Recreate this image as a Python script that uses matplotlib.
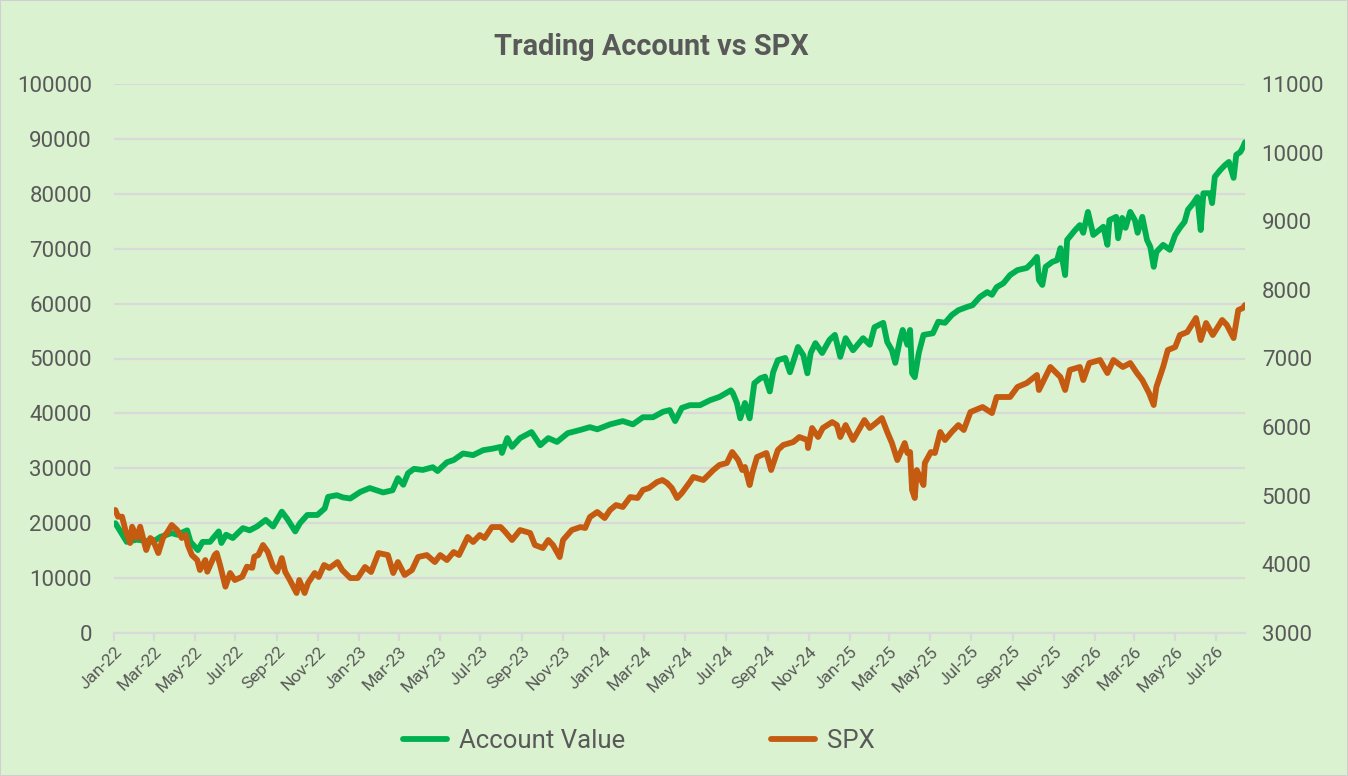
import numpy as np
import pandas as pd
import matplotlib
matplotlib.use("Agg")
import matplotlib.pyplot as plt
import matplotlib.dates as mdates
from matplotlib.patches import Rectangle

plt.rcParams['font.family'] = ['Roboto', 'DejaVu Sans']

# Valores: cuenta de trading
fechasCuenta = [
    "2022-01-03", "2022-01-20", "2022-02-04", "2022-02-28", "2022-03-11", "2022-03-28", "2022-04-05",
    "2022-04-20", "2022-04-25", "2022-05-06", "2022-05-13", "2022-05-24", "2022-06-06", "2022-06-10",
    "2022-06-17", "2022-06-27", "2022-07-12", "2022-07-22", "2022-08-02", "2022-08-15", "2022-08-26",
    "2022-09-08", "2022-09-16", "2022-09-28", "2022-10-05", "2022-10-16", "2022-10-31", "2022-11-11",
    "2022-11-16", "2022-11-29", "2022-12-08", "2022-12-19", "2023-01-03", "2023-01-17", "2023-02-06",
    "2023-02-20", "2023-02-28", "2023-03-08", "2023-03-15", "2023-03-24", "2023-04-06", "2023-04-21",
    "2023-04-28", "2023-05-12", "2023-05-22", "2023-06-05", "2023-06-20", "2023-07-05", "2023-07-20",
    "2023-07-31", "2023-08-02", "2023-08-10", "2023-08-17", "2023-08-29", "2023-09-15", "2023-09-28",
    "2023-10-10", "2023-10-23", "2023-11-08", "2023-11-27", "2023-12-11", "2023-12-22", "2024-01-10",
    "2024-01-29", "2024-02-13", "2024-02-28", "2024-03-14", "2024-03-29", "2024-04-08", "2024-04-16",
    "2024-04-26", "2024-05-08", "2024-05-23", "2024-06-07", "2024-06-21", "2024-07-08", "2024-07-11",
    "2024-07-17", "2024-07-22", "2024-07-29", "2024-08-05", "2024-08-12", "2024-08-21", "2024-08-28",
    "2024-09-04", "2024-09-09", "2024-09-16", "2024-09-27", "2024-10-04", "2024-10-16", "2024-10-24",
    "2024-10-30", "2024-11-04", "2024-11-11", "2024-11-21", "2024-12-02", "2024-12-10", "2024-12-18",
    "2024-12-26", "2025-01-06", "2025-01-21", "2025-01-31", "2025-02-07", "2025-02-20", "2025-02-26",
    "2025-03-05", "2025-03-10", "2025-03-17", "2025-03-21", "2025-03-28", "2025-04-01", "2025-04-04",
    "2025-04-08", "2025-04-14", "2025-04-21", "2025-05-05", "2025-05-13", "2025-05-23", "2025-06-02",
    "2025-06-12", "2025-06-25", "2025-07-03", "2025-07-14", "2025-07-25", "2025-08-01", "2025-08-08",
    "2025-08-18", "2025-08-28", "2025-09-08", "2025-09-22", "2025-10-01", "2025-10-07", "2025-10-10",
    "2025-10-15", "2025-10-20", "2025-10-30", "2025-11-06", "2025-11-11", "2025-11-18", "2025-11-21",
    "2025-12-03", "2025-12-10", "2025-12-15", "2025-12-22", "2025-12-30", "2026-01-14", "2026-01-20",
    "2026-01-23", "2026-02-02", "2026-02-05", "2026-02-11", "2026-02-16", "2026-02-23", "2026-03-02",
    "2026-03-06", "2026-03-13", "2026-03-20", "2026-03-25", "2026-03-30", "2026-04-03", "2026-04-13",
    "2026-04-23", "2026-05-01", "2026-05-08", "2026-05-15", "2026-05-20", "2026-05-28", "2026-06-03",
    "2026-06-08", "2026-06-12", "2026-06-22", "2026-06-25", "2026-06-29", "2026-07-07", "2026-07-14",
    "2026-07-20", "2026-07-27", "2026-07-31", "2026-08-06", "2026-08-10", "2026-08-13",
]
valorCuenta = [
    20000, 16600, 17000, 16600, 17500, 18200, 17900,
    18700, 16600, 15100, 16600, 16600, 18500, 16400,
    17900, 17300, 19100, 18700, 19400, 20600, 19400,
    22100, 20800, 18500, 20000, 21500, 21500, 22700,
    24800, 25100, 24700, 24500, 25700, 26400, 25600,
    26000, 28200, 27000, 29100, 29900, 29700, 30200,
    29500, 31100, 31500, 32700, 32400, 33300, 33600,
    33900, 32800, 35500, 33900, 35500, 36600, 34200,
    35500, 34800, 36400, 37000, 37500, 37100, 38000,
    38600, 38000, 39300, 39300, 40300, 40600, 38600,
    41000, 41500, 41500, 42400, 43000, 44200, 43700,
    41900, 39100, 41900, 39100, 45500, 46400, 46700,
    44000, 47500, 49700, 50100, 47500, 52100, 50600,
    47300, 51000, 52800, 51000, 53400, 54300, 50300,
    53700, 51500, 53700, 52500, 55700, 56500, 53000,
    51500, 49200, 53400, 55200, 52500, 55200, 47300,
    46600, 51000, 54300, 54600, 56700, 56500, 57900,
    58800, 59400, 59700, 61200, 62100, 61600, 63000,
    63700, 65200, 66100, 66500, 67600, 68500, 64300,
    63400, 66700, 67600, 67900, 70100, 65200, 71600,
    73400, 74300, 72900, 76700, 72500, 74000, 70700,
    75200, 75800, 71900, 75600, 73800, 76700, 75200,
    72900, 75800, 71600, 70300, 66700, 69400, 70700,
    69800, 72500, 73800, 74900, 77100, 78300, 79400,
    73400, 80100, 80100, 78300, 83100, 84300, 85200,
    85800, 82900, 87100, 87600, 88500, 89400,
]

# Valores: indice SPX
fechasSpx = [
    "2022-01-03", "2022-01-07", "2022-01-13", "2022-01-18", "2022-01-25", "2022-01-28", "2022-02-04",
    "2022-02-09", "2022-02-14", "2022-02-18", "2022-02-24", "2022-02-28", "2022-03-08", "2022-03-15",
    "2022-03-22", "2022-03-28", "2022-04-05", "2022-04-12", "2022-04-18", "2022-04-21", "2022-04-27",
    "2022-05-05", "2022-05-09", "2022-05-17", "2022-05-20", "2022-05-31", "2022-06-03", "2022-06-08",
    "2022-06-16", "2022-06-23", "2022-06-30", "2022-07-11", "2022-07-18", "2022-07-26", "2022-07-29",
    "2022-08-04", "2022-08-11", "2022-08-18", "2022-08-26", "2022-09-01", "2022-09-08", "2022-09-13",
    "2022-09-20", "2022-09-30", "2022-10-04", "2022-10-12", "2022-10-17", "2022-10-27", "2022-11-02",
    "2022-11-10", "2022-11-18", "2022-11-30", "2022-12-07", "2022-12-19", "2022-12-30", "2023-01-10",
    "2023-01-19", "2023-01-30", "2023-02-13", "2023-02-21", "2023-02-28", "2023-03-10", "2023-03-21",
    "2023-03-30", "2023-04-12", "2023-04-24", "2023-05-02", "2023-05-12", "2023-05-22", "2023-05-30",
    "2023-06-12", "2023-06-20", "2023-06-30", "2023-07-07", "2023-07-18", "2023-07-31", "2023-08-07",
    "2023-08-17", "2023-08-29", "2023-09-13", "2023-09-20", "2023-10-02", "2023-10-10", "2023-10-17",
    "2023-10-27", "2023-11-01", "2023-11-14", "2023-11-27", "2023-12-04", "2023-12-11", "2023-12-22",
    "2024-01-02", "2024-01-10", "2024-01-19", "2024-01-29", "2024-02-09", "2024-02-20", "2024-02-28",
    "2024-03-08", "2024-03-20", "2024-03-28", "2024-04-04", "2024-04-11", "2024-04-19", "2024-04-26",
    "2024-05-08", "2024-05-13", "2024-05-28", "2024-06-12", "2024-06-21", "2024-07-02", "2024-07-10",
    "2024-07-19", "2024-07-25", "2024-07-29", "2024-08-05", "2024-08-09", "2024-08-16", "2024-08-30",
    "2024-09-06", "2024-09-16", "2024-09-24", "2024-10-09", "2024-10-18", "2024-10-30", "2024-10-31",
    "2024-11-06", "2024-11-15", "2024-11-22", "2024-12-06", "2024-12-13", "2024-12-18", "2024-12-26",
    "2025-01-06", "2025-01-17", "2025-01-23", "2025-01-31", "2025-02-11", "2025-02-18", "2025-02-26",
    "2025-03-05", "2025-03-13", "2025-03-24", "2025-03-28", "2025-04-01", "2025-04-04", "2025-04-08",
    "2025-04-11", "2025-04-21", "2025-04-23", "2025-05-02", "2025-05-08", "2025-05-16", "2025-05-23",
    "2025-06-02", "2025-06-12", "2025-06-20", "2025-06-30", "2025-07-18", "2025-08-01", "2025-08-08",
    "2025-08-28", "2025-09-08", "2025-09-22", "2025-10-07", "2025-10-10", "2025-10-27", "2025-11-11",
    "2025-11-18", "2025-11-25", "2025-12-10", "2025-12-15", "2025-12-24", "2026-01-09", "2026-01-20",
    "2026-01-29", "2026-02-12", "2026-02-23", "2026-03-05", "2026-03-13", "2026-03-23", "2026-03-30",
    "2026-04-03", "2026-04-13", "2026-04-20", "2026-05-01", "2026-05-08", "2026-05-19", "2026-06-01",
    "2026-06-08", "2026-06-16", "2026-06-26", "2026-07-10", "2026-07-17", "2026-07-27", "2026-08-03",
    "2026-08-10", "2026-08-13",
]
valorSpx = [
    4792, 4695, 4695, 4500, 4311, 4549, 4384,
    4549, 4355, 4209, 4384, 4355, 4165, 4384,
    4476, 4574, 4500, 4384, 4428, 4282, 4136,
    4063, 3918, 4063, 3893, 4136, 4165, 3991,
    3675, 3874, 3772, 3820, 3966, 3950, 4112,
    4136, 4282, 4185, 3966, 3893, 4092, 3893,
    3772, 3583, 3772, 3583, 3728, 3874, 3816,
    3991, 3947, 4034, 3918, 3801, 3801, 3962,
    3889, 4165, 4136, 3874, 4034, 3845, 3918,
    4107, 4136, 4034, 4136, 4063, 4180, 4136,
    4399, 4326, 4428, 4384, 4544, 4544, 4472,
    4355, 4500, 4457, 4282, 4238, 4355, 4282,
    4107, 4355, 4500, 4544, 4530, 4690, 4763,
    4675, 4792, 4865, 4836, 4981, 4967, 5084,
    5113, 5200, 5229, 5186, 5113, 4967, 5040,
    5200, 5273, 5229, 5375, 5448, 5477, 5637,
    5520, 5375, 5419, 5156, 5331, 5564, 5623,
    5375, 5666, 5739, 5783, 5856, 5812, 5695,
    5987, 5856, 5987, 6074, 6030, 5856, 6030,
    5812, 6001, 6103, 5987, 6074, 6132, 5929,
    5768, 5520, 5768, 5623, 5637, 5084, 4967,
    5375, 5156, 5477, 5637, 5623, 5929, 5812,
    5929, 6030, 5958, 6220, 6293, 6205, 6439,
    6439, 6585, 6643, 6760, 6541, 6876, 6730,
    6541, 6833, 6876, 6686, 6934, 6978, 6788,
    6978, 6876, 6934, 6788, 6686, 6497, 6322,
    6585, 6876, 7123, 7167, 7342, 7386, 7590,
    7269, 7517, 7342, 7561, 7488, 7298, 7706,
    7736, 7780,
]

fondo = "#DAF2D0"
gris = "#595959"
verde = "#00B050"
naranja = "#C55A11"

fig = plt.figure(figsize=(13.48, 7.76), dpi=100, facecolor=fondo)
fig.patches.append(Rectangle((0, 0), 1, 1, transform=fig.transFigure, fill=False,
                             edgecolor="#D0D0D0", linewidth=1.5))
ax = fig.add_axes([114 / 1348, 1 - 633 / 776, (1245 - 114) / 1348, (633 - 84) / 776])
ax.set_facecolor(fondo)
ax2 = ax.twinx()

lineaCuenta, = ax.plot(pd.to_datetime(fechasCuenta), valorCuenta, color=verde, lw=4.2,
                       solid_joinstyle="round", solid_capstyle="round", label="Account Value")
lineaSpx, = ax2.plot(pd.to_datetime(fechasSpx), valorSpx, color=naranja, lw=4.2,
                     solid_joinstyle="round", solid_capstyle="round", label="SPX")

ax.set_ylim(0, 100000)
ax.set_yticks(np.arange(0, 100001, 10000))
ax2.set_ylim(3000, 11000)
ax2.set_yticks(np.arange(3000, 11001, 1000))
ax.set_xlim(pd.Timestamp("2022-01-01"), pd.Timestamp("2026-08-13"))

ax.grid(axis="y", color="#D9D9D9", linewidth=1.6)
ax.set_axisbelow(True)
for a in (ax, ax2):
    for s in a.spines.values():
        s.set_visible(False)
ax.spines["bottom"].set_visible(True)
ax.spines["bottom"].set_color("#D9D9D9")
ax.spines["bottom"].set_linewidth(1.6)

ax.xaxis.set_major_locator(mdates.MonthLocator(bymonth=[1, 3, 5, 7, 9, 11]))
ax.xaxis.set_major_formatter(mdates.DateFormatter("%b-%y"))
ax.tick_params(axis="x", colors="#D9D9D9", length=6, width=1.5, direction="out",
               labelcolor=gris, labelsize=12.5, pad=2)
for etiqueta in ax.get_xticklabels():
    etiqueta.set_rotation(45)
    etiqueta.set_ha("right")
    etiqueta.set_rotation_mode("anchor")
ax.tick_params(axis="y", length=0, labelcolor=gris, labelsize=16, pad=16)
ax2.tick_params(axis="y", length=0, labelcolor=gris, labelsize=16, pad=12)

fig.text(651 / 1348, 1 - 47 / 776, "Trading Account vs SPX", ha="center", va="center",
         fontsize=20.8, fontweight="bold", color=gris)

fig.legend(handles=[lineaCuenta, lineaSpx], loc="center", bbox_to_anchor=(0.474, 1 - 741 / 776),
           ncol=2, frameon=False, fontsize=18.5, labelcolor=gris, handlelength=1.7,
           handletextpad=0.45, columnspacing=5.7)

plt.savefig("out.png", dpi=100, facecolor=fondo)
